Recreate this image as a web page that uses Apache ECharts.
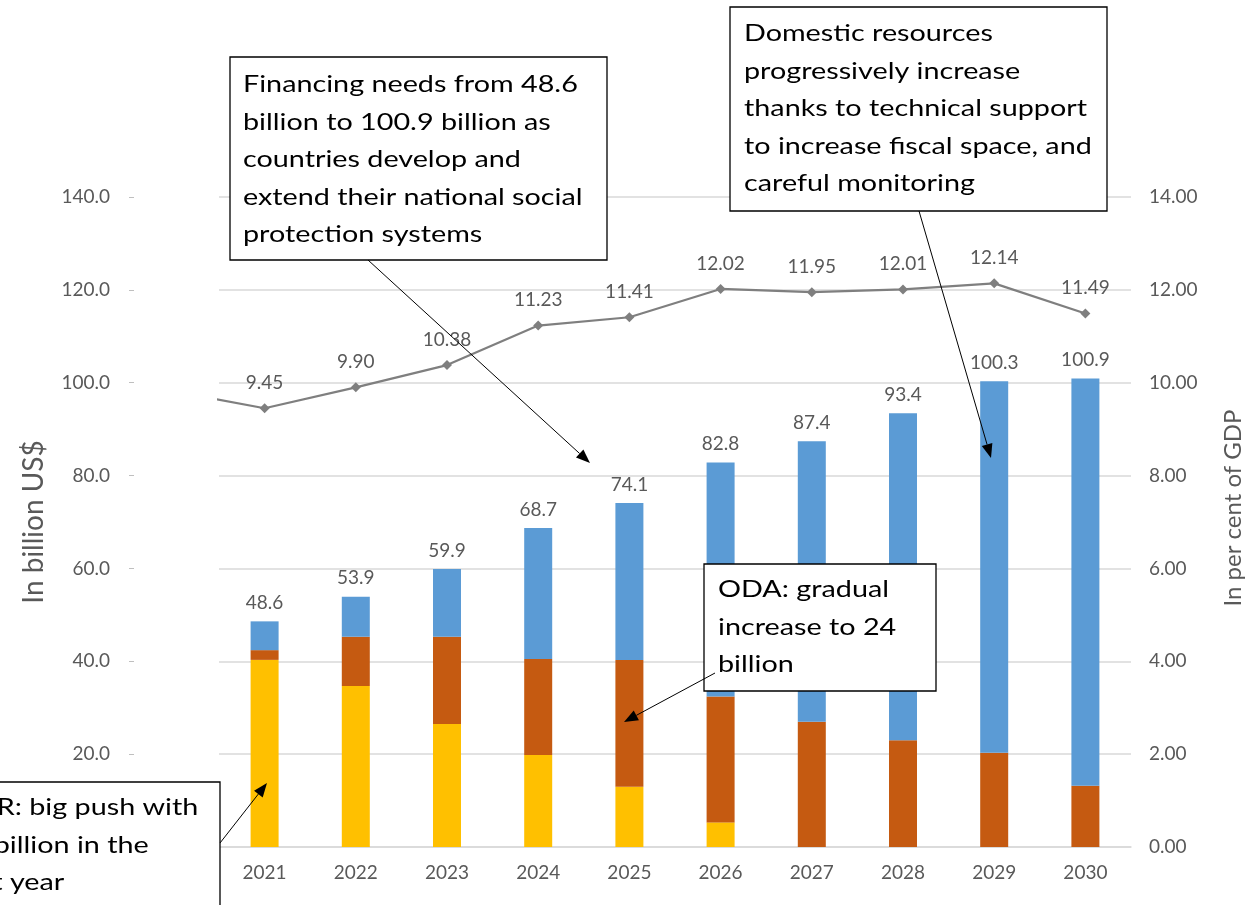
<!DOCTYPE html>
<html>
<head>
<meta charset="utf-8">
<script src="https://cdn.jsdelivr.net/npm/echarts@6/dist/echarts.min.js"></script>
<style>
    html, body { margin: 0; padding: 0; background: #fff; }
    #chart { width: 1253px; height: 905px; }
</style>
</head>
<body>
<div id="chart"></div>
<script>
// values (billion US$ and per cent of GDP)
const years = [2021, 2022, 2023, 2024, 2025, 2026, 2027, 2028, 2029, 2030];
const mtr = [40.3, 34.7, 26.5, 19.8, 13.0, 5.3, 0, 0, 0, 0];
const oda = [2.1, 10.6, 18.8, 20.7, 27.3, 27.1, 27.0, 23.0, 20.3, 13.2];
const totals = [48.6, 53.9, 59.9, 68.7, 74.1, 82.8, 87.4, 93.4, 100.3, 100.9];
const gdpShare = [9.45, 9.90, 10.38, 11.23, 11.41, 12.02, 11.95, 12.01, 12.14, 11.49];
// the line comes in from a point left of the visible plot
const gdpShare2020 = 9.82;

const domestic = totals.map((t, i) => +(t - mtr[i] - oda[i]).toFixed(1));
const linePoints = [[2020, gdpShare2020]].concat(years.map((y, i) => [y, gdpShare[i]]));

const FONT = 'Lato';
const GREY = '#595959';

// callout box; the text is stretched a bit sideways like the original
function box(x, y, w, h, lines, tx, ty) {
    return [
        {type: 'rect', z: 100, shape: {x: x, y: y, width: w, height: h},
         style: {fill: '#fff', stroke: '#000', lineWidth: 1.3}},
        {type: 'text', z: 101, x: tx, y: ty, scaleX: 1.25,
         style: {text: lines.join('\n'), font: '23px ' + FONT, fill: '#000',
                 lineHeight: 37.5, verticalAlign: 'top'}}
    ];
}

function arrow(x1, y1, x2, y2) {
    const a = Math.atan2(y2 - y1, x2 - x1);
    const len = 14, w = 5.5;
    const bx = x2 - len * Math.cos(a), by = y2 - len * Math.sin(a);
    return [
        {type: 'line', z: 102, shape: {x1: x1, y1: y1, x2: bx, y2: by},
         style: {stroke: '#000', lineWidth: 1}},
        {type: 'polygon', z: 102,
         shape: {points: [[x2, y2],
                          [bx - w * Math.sin(a), by + w * Math.cos(a)],
                          [bx + w * Math.sin(a), by - w * Math.cos(a)]]},
         style: {fill: '#000'}}
    ];
}

const chart = echarts.init(document.getElementById('chart'));

const option = {
    animation: false,
    backgroundColor: '#fff',
    grid: {left: 219, right: 121, top: 197, bottom: 58},
    xAxis: [
        {
            type: 'category',
            data: years.map(String),
            axisLine: {lineStyle: {color: '#d9d9d9', width: 1.5}},
            axisTick: {show: false},
            axisLabel: {color: GREY, fontFamily: FONT, fontSize: 19, margin: 16}
        },
        {type: 'value', min: 2020.5, max: 2030.5, show: false}
    ],
    yAxis: [
        {
            type: 'value', min: 0, max: 140, interval: 20,
            position: 'left', offset: 85,
            name: 'In billion US$', nameLocation: 'middle', nameGap: 86,
            nameTextStyle: {color: GREY, fontFamily: FONT, fontSize: 28},
            axisLine: {show: false},
            axisTick: {show: true, length: 5, lineStyle: {color: '#bfbfbf'}},
            axisLabel: {color: GREY, fontFamily: FONT, fontSize: 19, margin: 24,
                        formatter: v => v.toFixed(1)},
            splitLine: {lineStyle: {color: '#d9d9d9', width: 1.5}}
        },
        {
            type: 'value', min: 0, max: 14, interval: 2,
            position: 'right',
            name: 'In per cent of GDP', nameLocation: 'middle', nameGap: 90,
            nameTextStyle: {color: GREY, fontFamily: FONT, fontSize: 24,
                            padding: [0, 0, 0, 28]},
            axisLine: {show: false},
            axisTick: {show: false},
            axisLabel: {color: GREY, fontFamily: FONT, fontSize: 19, margin: 18,
                        formatter: v => v.toFixed(2)},
            splitLine: {show: false}
        }
    ],
    series: [
        {
            name: 'MTR', type: 'bar', stack: 'total', barWidth: 28,
            itemStyle: {color: '#ffc000'},
            data: mtr
        },
        {
            name: 'ODA', type: 'bar', stack: 'total', barWidth: 28,
            itemStyle: {color: '#c55a11'},
            data: oda
        },
        {
            name: 'Domestic resources', type: 'bar', stack: 'total', barWidth: 28,
            itemStyle: {color: '#5b9bd5'},
            label: {
                show: true, position: 'top', distance: 9,
                color: GREY, fontFamily: FONT, fontSize: 19,
                formatter: p => totals[p.dataIndex].toFixed(1)
            },
            data: domestic
        },
        {
            name: 'In per cent of GDP', type: 'line',
            xAxisIndex: 1, yAxisIndex: 1,
            symbol: 'diamond', symbolSize: 10,
            itemStyle: {color: '#7f7f7f'},
            lineStyle: {color: '#7f7f7f', width: 2.2},
            label: {
                show: true, position: 'top', distance: 11,
                color: GREY, fontFamily: FONT, fontSize: 19,
                formatter: p => p.value[0] === 2020 ? '' : p.value[1].toFixed(2)
            },
            data: linePoints
        }
    ],
    graphic: [].concat(
        arrow(368, 260, 590, 463),
        arrow(919, 211, 991, 458),
        arrow(715, 673, 624, 722),
        arrow(220, 843, 267, 783),
        box(230, 57, 377, 203,
            ['Financing needs from 48.6', 'billion to 100.9 billion as',
             'countries develop and', 'extend their national social',
             'protection systems'], 243, 66),
        box(730, 7, 377, 204,
            ['Domestic resources', 'progressively increase',
             'thanks to technical support', 'to increase fiscal space, and',
             'careful monitoring'], 744, 15),
        box(704, 564, 232, 127,
            ['ODA: gradual', 'increase to 24', 'billion'], 718, 571),
        box(-20, 782, 240, 140,
            ['MTR: big push with', '40 billion in the', 'first year'], -47, 789)
    )
};

chart.setOption(option);

window.addEventListener('resize', function () {
    chart.resize();
});
</script>
</body>
</html>
